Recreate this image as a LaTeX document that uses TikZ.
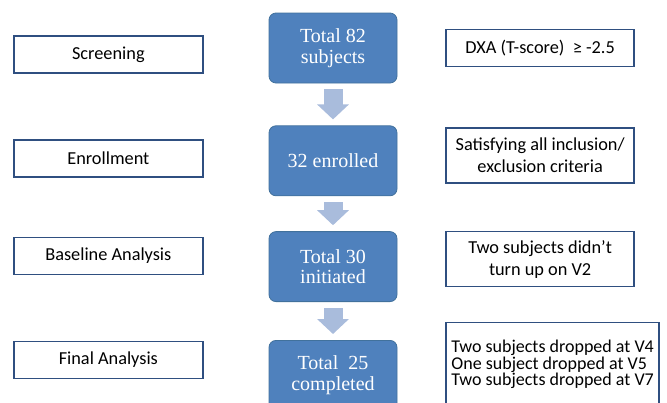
\documentclass[tikz,border=0pt]{standalone}
\usepackage{fontspec}
\setmainfont{Carlito}
\newfontfamily\stepfont{Liberation Serif}
\usetikzlibrary{positioning,arrows.meta}
\definecolor{stepblue}{HTML}{4F81BD}
\definecolor{stepedge}{HTML}{41719C}
\definecolor{arrowblue}{HTML}{A9BCDC}
\definecolor{boxedge}{HTML}{2F4F80}

\tikzset{
  stepbox/.style={rectangle, rounded corners=7pt, draw=stepedge, line width=0.8pt,
    fill=stepblue, text=white, minimum width=128pt, minimum height=70pt,
    align=center, font=\stepfont\fontsize{20}{20.5}\selectfont},
  phasebox/.style={rectangle, draw=boxedge, line width=1.5pt, fill=white,
    minimum width=189pt, minimum height=37pt,
    align=center, font=\fontsize{18.3}{22}\selectfont},
  notebox/.style={phasebox, minimum width=188pt},
  flow/.style={-{Triangle[width=31pt,length=15pt]}, line width=19pt, draw=arrowblue,
    shorten <=6pt, shorten >=6pt}
}

\begin{document}
\begin{tikzpicture}[x=1pt,y=-1pt]
   \useasboundingbox (0,0) rectangle (667,402);
   \clip (0,0) rectangle (667,402);
   % centre column
   \node[stepbox] (total) at (333,48) {Total 82\\subjects};
   \node[stepbox] (enrolled) [below=42pt of total] {32 enrolled};
   \node[stepbox] (initiated) [below=35pt of enrolled] {Total 30\\initiated};
   \node[stepbox] (completed) [below=38pt of initiated] {Total\ \ 25\\completed};
   % phases on the left
   \node[phasebox] (screening) [left=65pt of total, yshift=-6.5pt] {Screening};
   \node[phasebox] (enrollment) [left=65pt of enrolled, yshift=2.5pt] {Enrollment};
   \node[phasebox] (baseline) [left=65pt of initiated, yshift=10.5pt] {Baseline Analysis};
   \node[phasebox] (final) [left=65pt of completed, yshift=15.5pt] {Final Analysis};
   % notes on the right
   \node[notebox] (dxa) [right=48pt of total] {DXA (T-score)\ \ ≥ -2.5};
   \node[notebox, minimum height=55pt] (criteria) [right=48pt of enrolled, yshift=5.5pt]
     {Satisfying all inclusion/\\exclusion criteria};
   \node[notebox, minimum height=55pt] (noshow) [right=48pt of initiated, yshift=7.5pt]
     {Two subjects didn’t\\turn up on V2};
   \node[notebox, minimum height=84pt, minimum width=213pt, align=left, inner xsep=4pt,
     font=\fontsize{18}{15.5}\selectfont]
     (dropped) [right=48pt of completed, yshift=11pt]
     {Two subjects dropped at V4\\One subject dropped at V5\\Two subjects dropped at V7};
   % block arrows
   \draw[flow] (total.south) -- (total.south |- enrolled.north);
   \draw[flow] (enrolled.south) -- (enrolled.south |- initiated.north);
   \draw[flow] (initiated.south) -- (initiated.south |- completed.north);
\end{tikzpicture}
\end{document}
